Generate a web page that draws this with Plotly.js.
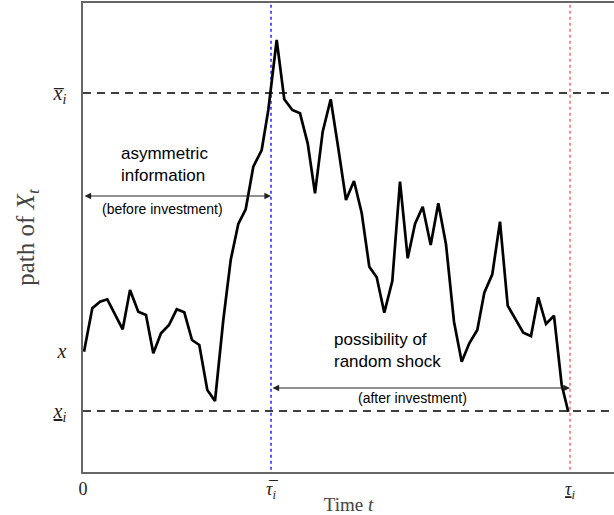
<!DOCTYPE html>
<html>
<head>
<meta charset="utf-8">
<script src="https://cdn.plot.ly/plotly-3.0.1.min.js"></script>
<style>html,body{margin:0;padding:0;background:#fff;}</style>
</head>
<body>
<div id="chart" style="width:614px;height:515px;"></div>
<script>
// Path of X_t (time, value)
const timeT = [1, 9.3, 17, 24.3, 39.7, 47, 55.3, 63, 70.3, 78, 86, 93.7, 101.3, 109, 116.3,
  124.3, 132, 140.3, 147.7, 155.3, 162.7, 170.3, 178.7, 185.3, 193.7, 201.3, 209.3, 217, 224.7, 232,
  239.7, 247.7, 255.3, 263, 271, 278.7, 286.3, 293.7, 301.3, 309.3, 317, 324.7, 332, 339.7, 347.7,
  355.3, 363, 371, 378.7, 386.3, 394.3, 401.3, 409.3, 417, 424.7, 432.7, 440.3, 448, 455.3, 463,
  471, 478.7, 485.3];
const pathX = [120.3, 163.7, 170.3, 172.7, 142.7, 182, 160.3, 157, 118.7, 138.7, 147, 162.7, 159.7, 132, 127,
  82, 71, 152, 212, 248, 262.7, 305.3, 322, 362, 432, 372.7, 362, 358.7, 328.7, 278.7,
  340.3, 372.7, 323.7, 272, 291, 259, 205.3, 194.7, 159.3, 191, 290.3, 213.7, 248, 265.3, 227,
  268.7, 227.7, 150.3, 110.3, 128.7, 142, 179.3, 197.7, 250.3, 166.3, 152.7, 139.3, 136, 174.7, 148,
  156.3, 87, 60.3];

// Levels and times
const xUpper = 379;   // x̄_i
const xStart = 121;   // x
const xLower = 61;    // x_i (underlined)
const tauUpper = 188; // τ̄_i
const tauLower = 487; // τ_i (underlined)

const xTickVals = [0, tauUpper, tauLower];
const xTickText = ['0',
  '<i>τ̅</i><sub><i>i</i></sub>',
  '<u><i>τ</i></u><sub><i>i</i></sub>'];
const yTickVals = [xUpper, xStart, xLower];
const yTickText = ['<i>x̅</i><sub><i>i</i></sub>',
  '<i>x</i>',
  '<u><i>x</i></u><sub><i>i</i></sub>'];

const arrowBefore = 276;
const arrowAfter = 84;

const serif = 'Liberation Serif, DejaVu Serif, serif';
const sans = 'Liberation Sans, Arial, sans-serif';

const trace = {
  x: timeT, y: pathX, type: 'scatter', mode: 'lines',
  line: {color: '#000', width: 2.7}, hoverinfo: 'skip', showlegend: false
};

const layout = {
  width: 614, height: 515,
  margin: {l: 83, r: 0, t: 3, b: 43},
  paper_bgcolor: '#fff', plot_bgcolor: '#fff',
  showlegend: false,
  xaxis: {
    range: [0, 531], showgrid: false, zeroline: false,
    showline: true, mirror: true, linecolor: '#666', linewidth: 1.6,
    ticks: '', tickvals: xTickVals, ticktext: xTickText,
    tickfont: {family: serif, size: 18, color: '#222'},
    ticklabelstandoff: 0,
    title: {text: 'Time <i>t</i>', font: {family: serif, size: 19, color: '#444'}, standoff: 4}
  },
  yaxis: {
    range: [0, 469], showgrid: false, zeroline: false,
    showline: true, linecolor: '#666', linewidth: 1.6,
    ticks: '', tickvals: yTickVals, ticktext: yTickText,
    tickfont: {family: serif, size: 20, color: '#222'},
    ticklabelstandoff: 11,
    title: {text: 'path of <i>X</i><sub><i>t</i></sub>', font: {family: serif, size: 25, color: '#444'}, standoff: 11}
  },
  shapes: [
    {type: 'line', xref: 'x', yref: 'paper', x0: tauUpper, x1: tauUpper, y0: 0.005, y1: 1,
      line: {color: '#0000ff', width: 1.3, dash: 'dot'}, layer: 'below'},
    {type: 'line', xref: 'x', yref: 'paper', x0: tauLower, x1: tauLower, y0: 0.005, y1: 1,
      line: {color: '#ff5050', width: 1.3, dash: 'dot'}, layer: 'below'},
    {type: 'line', xref: 'paper', yref: 'y', x0: 0, x1: 1, y0: xUpper, y1: xUpper,
      line: {color: '#000', width: 1.3, dash: '8px,6px'}, layer: 'below'},
    {type: 'line', xref: 'paper', yref: 'y', x0: 0, x1: 1, y0: xLower, y1: xLower,
      line: {color: '#000', width: 1.3, dash: '8px,6px'}, layer: 'below'}
  ],
  annotations: [
    {x: tauUpper, y: arrowBefore, ax: 0, ay: arrowBefore, xref: 'x', yref: 'y', axref: 'x', ayref: 'y',
      text: '', showarrow: true, arrowside: 'end+start', arrowhead: 2, arrowsize: 1.1, arrowwidth: 1.2,
      arrowcolor: '#222', standoff: 0, startstandoff: 0},
    {x: tauLower, y: arrowAfter, ax: tauUpper, ay: arrowAfter, xref: 'x', yref: 'y', axref: 'x', ayref: 'y',
      text: '', showarrow: true, arrowside: 'end+start', arrowhead: 2, arrowsize: 1.1, arrowwidth: 1.2,
      arrowcolor: '#222', standoff: 0, startstandoff: 0},
    {x: 36, y: 308, xref: 'x', yref: 'y', xanchor: 'left', yanchor: 'middle', align: 'left',
      text: 'asymmetric<br>information', showarrow: false, font: {family: sans, size: 17, color: '#000'}},
    {x: 79, y: 263, xref: 'x', yref: 'y', xanchor: 'center', yanchor: 'middle',
      text: '(before investment)', showarrow: false, font: {family: sans, size: 14, color: '#000'}},
    {x: 248.5, y: 122, xref: 'x', yref: 'y', xanchor: 'left', yanchor: 'middle', align: 'left',
      text: 'possibility of<br>random shock', showarrow: false, font: {family: sans, size: 17, color: '#000'}},
    {x: 329.5, y: 74, xref: 'x', yref: 'y', xanchor: 'center', yanchor: 'middle',
      text: '(after investment)', showarrow: false, font: {family: sans, size: 14, color: '#000'}}
  ]
};

Plotly.newPlot('chart', [trace], layout, {displayModeBar: false, staticPlot: true});
</script>
</body>
</html>
